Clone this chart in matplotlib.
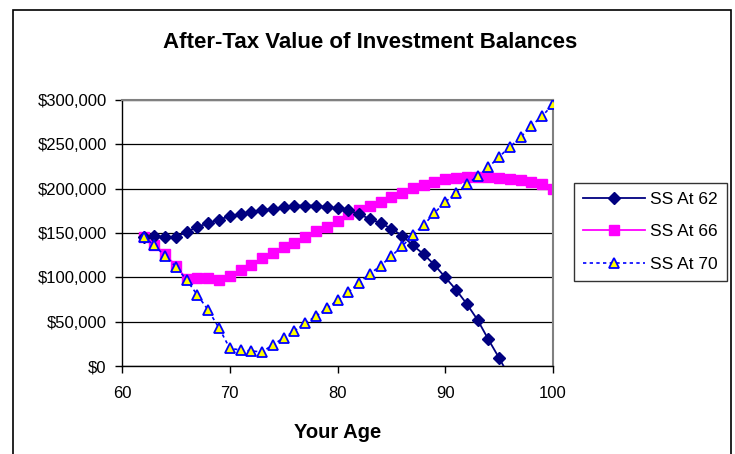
import matplotlib
matplotlib.use("Agg")
import matplotlib.pyplot as plt
from matplotlib.ticker import FuncFormatter, MultipleLocator
from matplotlib.patches import Rectangle

plt.rcParams['font.family'] = ['Liberation Sans', 'DejaVu Sans']

ages = list(range(62, 101))
ages_62 = list(range(62, 97))
ss62 = [146000, 146500, 145500, 145500, 151000, 157000, 161000, 165000, 169000, 171000,
        174000, 176000, 177000, 179000, 181000, 181000, 181000, 179000, 178000, 176000,
        171000, 166000, 161000, 155000, 147000, 136000, 126000, 114000, 100000, 86000,
        70000, 52000, 30000, 9000, -13000]
ss66 = [146000, 137000, 126000, 113000, 98000, 99000, 99000, 97000, 101500, 108000,
        114000, 122000, 127000, 134000, 139000, 145500, 152000, 157000, 163500, 171000,
        176000, 180000, 185000, 190500, 195000, 201000, 204000, 207500, 211000, 212500,
        213000, 213000, 213000, 212500, 211000, 210000, 207500, 205000, 199500]
ss70 = [146000, 136000, 124000, 112000, 97000, 80000, 63000, 43000, 20000, 18000,
        17000, 15800, 24000, 31600, 39500, 48500, 56000, 65000, 74000, 83000,
        94000, 104000, 113000, 124000, 135000, 148000, 159000, 172600, 185000, 195000,
        205000, 214000, 224000, 236000, 247000, 258000, 271000, 282000, 295000]

W, H = 735, 454
fig = plt.figure(figsize=(W / 100, H / 100), dpi=100)
fig.patch.set_facecolor('white')

# outer chart border
fig.patches.append(Rectangle((13 / W, -0.05), (731 - 13) / W, 1.05 - 10 / H,
                             transform=fig.transFigure, fill=False,
                             edgecolor='black', linewidth=1.2))

ax = fig.add_axes([122 / W, (H - 366) / H, (553 - 122) / W, (366 - 100) / H])

l62, = ax.plot(ages_62, ss62, color='#000080', linewidth=1.3, marker='D',
               markersize=6.0, markerfacecolor='#000080', markeredgecolor='#000080',
               label='SS At 62', zorder=3)
l66, = ax.plot(ages, ss66, color='#FF00FF', linewidth=1.3, marker='s',
               markersize=7.0, markerfacecolor='#FF00FF', markeredgecolor='#FF00FF',
               label='SS At 66', zorder=2)
l70, = ax.plot(ages, ss70, color='#0000FF', linewidth=1.2, linestyle=(0, (2, 2)),
               marker='^', markersize=7.5, markerfacecolor='#FFFF00',
               markeredgecolor='#0000FF', markeredgewidth=1.3,
               label='SS At 70', zorder=4)

ax.set_xlim(60, 100)
ax.set_ylim(0, 300000)
ax.xaxis.set_major_locator(MultipleLocator(10))
ax.yaxis.set_major_locator(MultipleLocator(50000))
ax.yaxis.set_major_formatter(FuncFormatter(lambda v, p: '${:,.0f}'.format(v)))
ax.grid(axis='y', color='#000000', linewidth=0.9, zorder=0)
ax.set_axisbelow(True)

for s in ['top', 'right']:
    ax.spines[s].set_color('#808080')
    ax.spines[s].set_linewidth(1.5)
for s in ['left', 'bottom']:
    ax.spines[s].set_color('#000000')
    ax.spines[s].set_linewidth(1.0)

ax.tick_params(axis='both', direction='out', length=5, width=1, labelsize=12,
               colors='black')
ax.tick_params(axis='x', pad=9.5)
ax.tick_params(axis='y', pad=6)

fig.text(370 / W, 1 - 42 / H, 'After-Tax Value of Investment Balances',
         ha='center', va='center', fontsize=16, fontweight='bold')
fig.text(338 / W, 1 - 432 / H, 'Your Age', ha='center', va='center',
         fontsize=14.5, fontweight='bold')

leg = fig.legend(handles=[l62, l66, l70], loc='upper left',
                 bbox_to_anchor=(574 / W, 1 - 183 / H), fontsize=12.5,
                 frameon=True, fancybox=False, edgecolor='black',
                 handlelength=3.6, handletextpad=0.3, borderpad=0.5,
                 labelspacing=1.0, borderaxespad=0)
leg.get_frame().set_linewidth(1.0)

fig.savefig('out.png', dpi=100)
